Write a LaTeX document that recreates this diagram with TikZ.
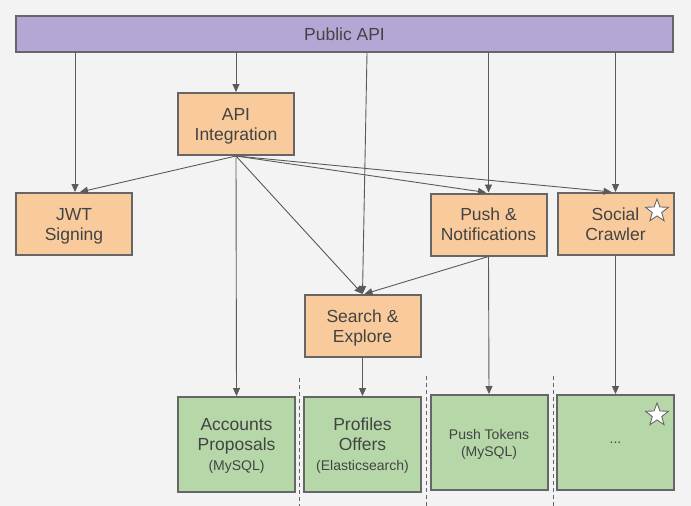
\documentclass[tikz,border=0pt]{standalone}
\usepackage{fontspec}
\setmainfont{Liberation Sans}
\usetikzlibrary{arrows.meta,shapes.geometric}
\definecolor{bgc}{HTML}{F3F3F3}
\definecolor{purp}{HTML}{B4A7D6}
\definecolor{orng}{HTML}{F9CB9C}
\definecolor{grn}{HTML}{B6D7A8}
\definecolor{edge}{HTML}{666666}
\definecolor{txt}{HTML}{434343}
\definecolor{conn}{HTML}{5A5A5A}
\tikzset{
  boxbase/.style={draw=edge, line width=2pt, inner sep=0pt, align=center, text=txt,
    font=\fontsize{17.5}{20}\selectfont, text depth=0pt},
  orbox/.style={boxbase, fill=orng, minimum width=116pt, minimum height=62pt},
  grbox/.style={boxbase, fill=grn, minimum width=117pt, minimum height=95pt},
  pubbox/.style={boxbase, fill=purp, minimum width=657pt, minimum height=36pt},
  conline/.style={draw=conn, line width=0.9pt, -{Triangle[length=8pt,width=7pt]}},
  sepline/.style={draw=edge, line width=0.9pt, dash pattern=on 4pt off 3pt},
  starsh/.style={star, star points=5, star point ratio=2.4, minimum size=24pt, inner sep=0pt,
    draw=edge, line width=0.9pt, fill=white},
  small/.style={font=\fontsize{14}{17}\selectfont}
}
\begin{document}
\begin{tikzpicture}[x=1pt,y=-1pt]
\fill[bgc] (0,0) rectangle (691,506);
\useasboundingbox (0,0) rectangle (691,506);

% dashed separators
\coordinate (d1t) at (299,378); \coordinate (d1b) at (299,506);
\coordinate (d2t) at (426,376); \coordinate (d2b) at (426,506);
\coordinate (d3t) at (553,376); \coordinate (d3b) at (553,506);
\draw[sepline] (d1t) -- (d1b);
\draw[sepline] (d2t) -- (d2b);
\draw[sepline] (d3t) -- (d3b);

\node[pubbox] (pub) at (344.5,34) {Public API};
\node[orbox] (api) at (236,124) {API\\Integration};
\node[orbox] (jwt) at (74,224) {JWT\\Signing};
\node[orbox] (push) at (488.5,224.5) {Push \&\\Notifications};
\node[orbox] (soc) at (615.5,224) {Social\\Crawler};
\node[orbox] (search) at (362.5,326) {Search \&\\Explore};

\node[grbox] (acc) at (236.5,444.5) {Accounts\\Proposals\\{\fontsize{14}{17}\selectfont (MySQL)}};
\node[grbox] (prof) at (362.5,444.5) {Profiles\\Offers\\{\fontsize{14}{17}\selectfont (Elasticsearch)}};
\node[grbox, small] (tok) at (489,442.5) {Push Tokens\\(MySQL)};
\node[grbox, small] (dots) at (615.5,442.5) {...};

\node[starsh] (star1) at (657,211) {};
\node[starsh] (star2) at (657,415) {};

% from Public API
\draw[conline] ([xshift=1pt]jwt.north |- pub.south) -- ([xshift=1pt]jwt.north);
\draw[conline] (api.north |- pub.south) -- (api.north);
\draw[conline] ([xshift=4.5pt]search.north |- pub.south) -- (search.north);
\draw[conline] (push.north |- pub.south) -- (push.north);
\draw[conline] (soc.north |- pub.south) -- (soc.north);

% from API Integration
\draw[conline] (api.south) -- ([xshift=6pt]jwt.north);
\draw[conline] (api.south) -- (acc.north);
\draw[conline] (api.south) -- (search.north);
\draw[conline] (api.south) -- ([xshift=-2.5pt]push.north);
\draw[conline] (api.south) -- ([xshift=-4pt]soc.north);

% others
\draw[conline] (push.south) -- ([xshift=2pt]search.north);
\draw[conline] (push.south) -- (tok.north);
\draw[conline] (search.south) -- (prof.north);
\draw[conline] (soc.south) -- (dots.north);
\end{tikzpicture}
\end{document}
